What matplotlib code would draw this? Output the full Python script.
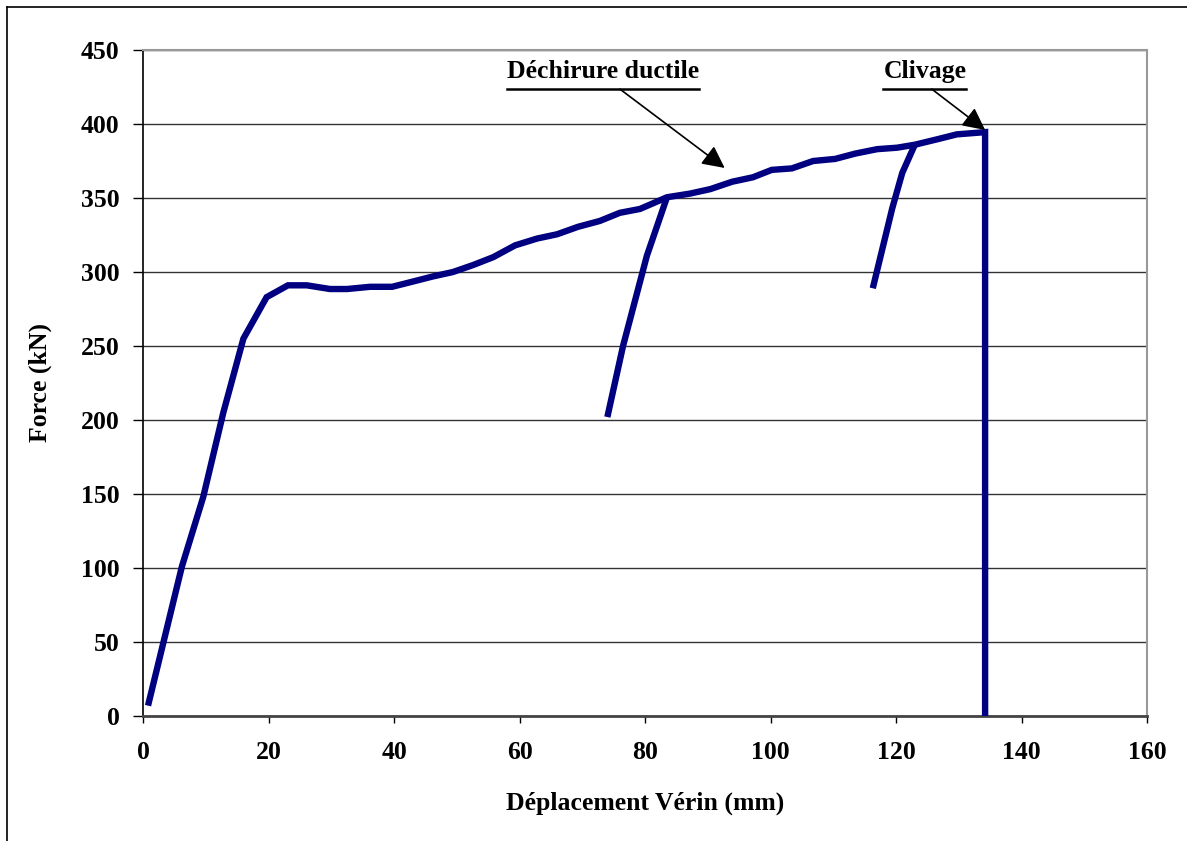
import numpy as np
import matplotlib
matplotlib.use('Agg')
import matplotlib.pyplot as plt
from matplotlib.lines import Line2D

plt.rcParams['font.family'] = ['Liberation Serif', 'DejaVu Serif']
plt.rcParams['font.weight'] = 'bold'

# courbe principale (chargement)
depl = [0.8, 6.2, 9.6, 12.8, 16.0, 19.7, 23.1, 26.1, 29.8, 32.5, 36.2, 39.7,
        42.5, 46.2, 49.4, 52.6, 55.8, 59.3, 62.8, 66.0, 69.3, 72.8, 76.0, 79.2,
        83.5, 87.2, 90.4, 93.9, 97.2, 100.2, 103.4, 106.8, 110.3, 113.5, 117.0,
        120.2, 123.0, 126.5, 129.7, 134.2, 134.2]
force = [7, 101, 148, 205, 255, 283, 291, 291, 288.5, 288.5, 290, 290,
         293, 297, 300, 304.7, 310, 318, 322.6, 325.5, 330.5, 334.5, 340, 342.6,
         350.5, 353, 356, 361, 364, 369, 370, 375, 376.4, 380, 383,
         384, 386, 389.6, 393, 394.5, 0]

# décharges / recharges
depl_d1 = [74.0, 76.5, 80.3, 83.5]
force_d1 = [202, 250, 311, 350.5]
depl_d2 = [116.3, 119.4, 121.0, 123.0]
force_d2 = [289, 343, 367, 386]

xticks = np.arange(0, 161, 20)
yticks = np.arange(0, 451, 50)

fs = 18.5

fig = plt.figure(figsize=(11.87, 8.41), dpi=100)
ax = fig.add_axes([143/1187, 125/841, 1004/1187, 666/841])

navy = '#000080'
for xs, ys in [(depl, force), (depl_d1, force_d1), (depl_d2, force_d2)]:
    ax.plot(xs, ys, color=navy, lw=4.6, solid_joinstyle='miter',
            solid_capstyle='butt', zorder=3)

ax.set_xlim(0, 160)
ax.set_ylim(0, 450)
ax.set_xticks(xticks)
ax.set_yticks(yticks)
ax.yaxis.grid(True, color='#333333', lw=1.0)
ax.set_axisbelow(True)

ax.tick_params(axis='y', direction='out', length=7, width=1, pad=10, labelsize=fs)
ax.tick_params(axis='x', direction='out', length=5, width=1, pad=13, labelsize=fs)
for lab in ax.get_xticklabels() + ax.get_yticklabels():
    lab.set_fontweight('bold')

ax.spines['left'].set_color('black')
ax.spines['left'].set_linewidth(1.2)
ax.spines['bottom'].set_color('#444444')
ax.spines['bottom'].set_linewidth(2.0)
ax.spines['top'].set_color('#999999')
ax.spines['top'].set_linewidth(1.5)
ax.spines['right'].set_color('#999999')
ax.spines['right'].set_linewidth(1.5)

ax.set_xlabel('Déplacement Vérin (mm)', fontsize=fs, fontweight='bold')
ax.set_ylabel('Force (kN)', fontsize=fs, fontweight='bold')
ax.xaxis.set_label_coords(0.5, -0.114)
ax.yaxis.set_label_coords(-0.091, 0.5)

# annotations soulignées avec flèches
notes = [('Déchirure ductile', 73.3, 76.0, (92.7, 370.3)),
         ('Clivage', 124.6, 125.7, (134.2, 396.0))]
txts = []
for label, xc, xa, tip in notes:
    t = ax.text(xc, 435.5, label, ha='center', va='center', fontsize=fs,
                fontweight='bold', zorder=5)
    txts.append(t)
    ax.annotate('', xy=tip, xytext=(xa, 423.6),
                arrowprops=dict(arrowstyle='-|>', color='black', lw=1.2,
                                mutation_scale=34, shrinkA=0, shrinkB=0))

fig.canvas.draw()
inv = ax.transData.inverted()
for t in txts:
    bb = t.get_window_extent()
    x0 = inv.transform((bb.x0, 0))[0]
    x1 = inv.transform((bb.x1, 0))[0]
    ax.plot([x0, x1], [423.6, 423.6], color='black', lw=1.8, clip_on=False, zorder=5)

# cadre de la figure (coupé à droite et en bas)
fig.add_artist(Line2D([7/1187, 7/1187], [0, 1 - 7/841], color='black', lw=1.2,
                      transform=fig.transFigure))
fig.add_artist(Line2D([7/1187, 1], [1 - 7/841, 1 - 7/841], color='black', lw=1.2,
                      transform=fig.transFigure))

fig.savefig('out.png', dpi=100)
